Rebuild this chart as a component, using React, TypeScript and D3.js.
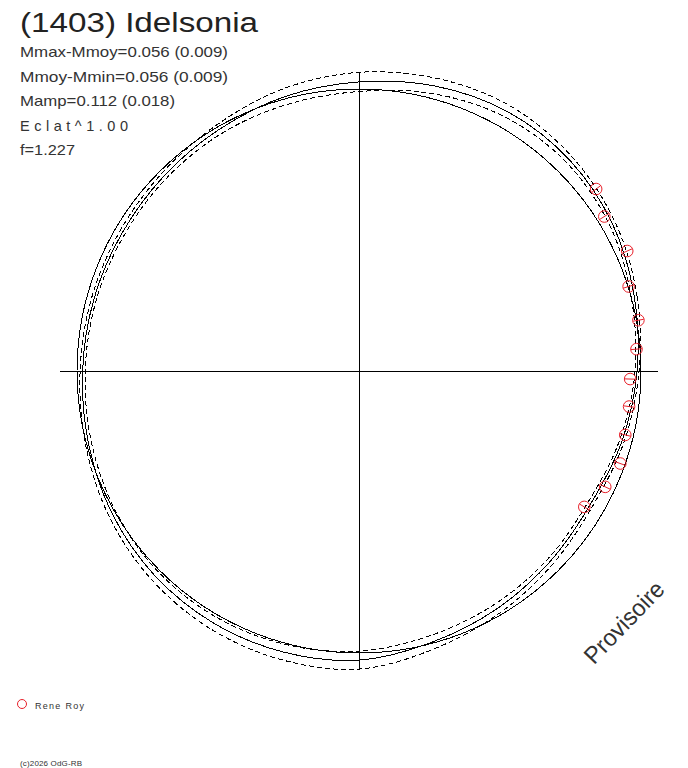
import React from "react";
import * as d3 from "d3";

// ---- data ----
const title = "(1403) Idelsonia";
const infoLines = [
  "Mmax-Mmoy=0.056 (0.009)",
  "Mmoy-Mmin=0.056 (0.009)",
  "Mamp=0.112 (0.018)",
  "Eclat^1.00",
  "f=1.227",
];
const infoWidths = [208, 208, 155, 108, 55];
const observer = "Rene Roy";
const copyright = "(c)2026 OdG-RB";
const stamp = "Provisoire";

// phase angle (deg, counter-clockwise from +x) and relative flux of the fitted curve
const fitAngle = [0, 15, 30, 45, 60, 75, 90, 105, 120, 135, 150, 165, 180, 195, 210, 225, 240, 255, 270, 285, 300, 315, 330, 345];
const fitFlux = [0.986, 1.011, 1.039, 1.057, 1.06, 1.046, 1.025, 1.008, 0.99, 0.978, 0.972, 0.974, 0.98, 0.993, 1.011, 1.025, 1.032, 1.032, 1.025, 0.996, 0.975, 0.957, 0.947, 0.965];
const fitUpper = [0.993, 1.021, 1.05, 1.071, 1.082, 1.074, 1.059, 1.036, 1.008, 0.99, 0.982, 0.983, 0.989, 1.004, 1.025, 1.043, 1.055, 1.06, 1.057, 1.021, 0.993, 0.97, 0.957, 0.973];
const fitLower = [0.979, 1.0, 1.028, 1.043, 1.039, 1.018, 0.991, 0.979, 0.973, 0.966, 0.962, 0.965, 0.971, 0.982, 0.996, 1.007, 1.009, 1.004, 0.993, 0.972, 0.957, 0.945, 0.936, 0.956];
const meanFlux = 1.0;
const axisExtent = 1.06;

// observations
const obsAngle = [37.5, 32.2, 24.1, 17.4, 10.3, 4.5, 358.3, 352.5, 346.5, 340.5, 334.8, 328.9];
const obsFlux = [1.06, 1.028, 1.042, 1.002, 1.007, 0.987, 0.962, 0.966, 0.971, 0.983, 0.965, 0.933];
const obsErr = [0.02, 0.02, 0.019, 0.02, 0.019, 0.02, 0.02, 0.019, 0.02, 0.02, 0.019, 0.02];

const W = 688;
const H = 768;
const cx = 359;
const cy = 371;
const RED = "#e8202a";
const FONT = "'Liberation Sans', Arial, sans-serif";

export default function App() {
  const r = d3.scaleLinear().domain([0, 1]).range([0, 282]);
  const rad = (deg: number) => (deg * Math.PI) / 180;

  const radial = d3
    .lineRadial<[number, number]>()
    .angle((d) => rad(90 - d[0]))
    .radius((d) => r(d[1]))
    .curve(d3.curveCatmullRomClosed.alpha(0.5));

  const mk = (vals: number[]) => radial(fitAngle.map((a, i) => [a, vals[i]] as [number, number])) || "";

  const ext = r(axisExtent);
  const px = (deg: number, f: number) => [cx + r(f) * Math.cos(rad(deg)), cy - r(f) * Math.sin(rad(deg))];

  return (
    <svg width={W} height={H} style={{ position: "absolute", left: 0, top: 0, background: "#fff" }} fontFamily={FONT}>
      <rect x={0} y={0} width={W} height={H} fill="#fff" />
      {/* axes */}
      <line x1={cx - ext} x2={cx + ext} y1={cy + 0.5} y2={cy + 0.5} stroke="#000" strokeWidth={1} shapeRendering="crispEdges" />
      <line x1={cx + 0.5} x2={cx + 0.5} y1={cy - ext} y2={cy + ext} stroke="#000" strokeWidth={1} shapeRendering="crispEdges" />

      <g transform={`translate(${cx},${cy})`} fill="none" stroke="#000" strokeWidth={1}>
        <circle r={r(meanFlux)} shapeRendering="crispEdges" />
        <path d={mk(fitFlux)} shapeRendering="crispEdges" />
        <path d={mk(fitUpper)} strokeDasharray="5 3" shapeRendering="crispEdges" />
        <path d={mk(fitLower)} strokeDasharray="5 3" shapeRendering="crispEdges" />
      </g>

      {/* observations */}
      <g>
        {obsAngle.map((a, i) => {
          const [x, y] = px(a, obsFlux[i]);
          const [x1, y1] = px(a, obsFlux[i] - obsErr[i]);
          const [x2, y2] = px(a, obsFlux[i] + obsErr[i]);
          return (
            <g key={i}>
              <circle cx={x} cy={y} r={5.8} fill="none" stroke={RED} strokeWidth={1} />
              <line x1={x1} y1={y1} x2={x2} y2={y2} stroke={RED} strokeWidth={1} />
            </g>
          );
        })}
      </g>

      {/* texts */}
      <text x={20} y={32} fontSize={27} fill="#222" textLength={238} lengthAdjust="spacingAndGlyphs">
        {title}
      </text>
      {infoLines.map((t, i) => (
        <text
          key={i}
          x={20}
          y={57 + i * 24.5}
          fontSize={14.5}
          fill="#333"
          textLength={infoWidths[i]}
          lengthAdjust={i === 3 ? "spacing" : "spacingAndGlyphs"}
        >
          {t}
        </text>
      ))}

      <text transform="translate(630,628) rotate(-46)" textAnchor="middle" fontSize={24} fill="#333" textLength={104} lengthAdjust="spacingAndGlyphs">
        {stamp}
      </text>

      <circle cx={22} cy={704} r={4.5} fill="none" stroke={RED} strokeWidth={1} />
      <text x={35} y={708.5} fontSize={9} fill="#333" textLength={49} lengthAdjust="spacing">
        {observer}
      </text>
      <text x={20} y={766} fontSize={8} fill="#333" textLength={62} lengthAdjust="spacing">
        {copyright}
      </text>
    </svg>
  );
}
